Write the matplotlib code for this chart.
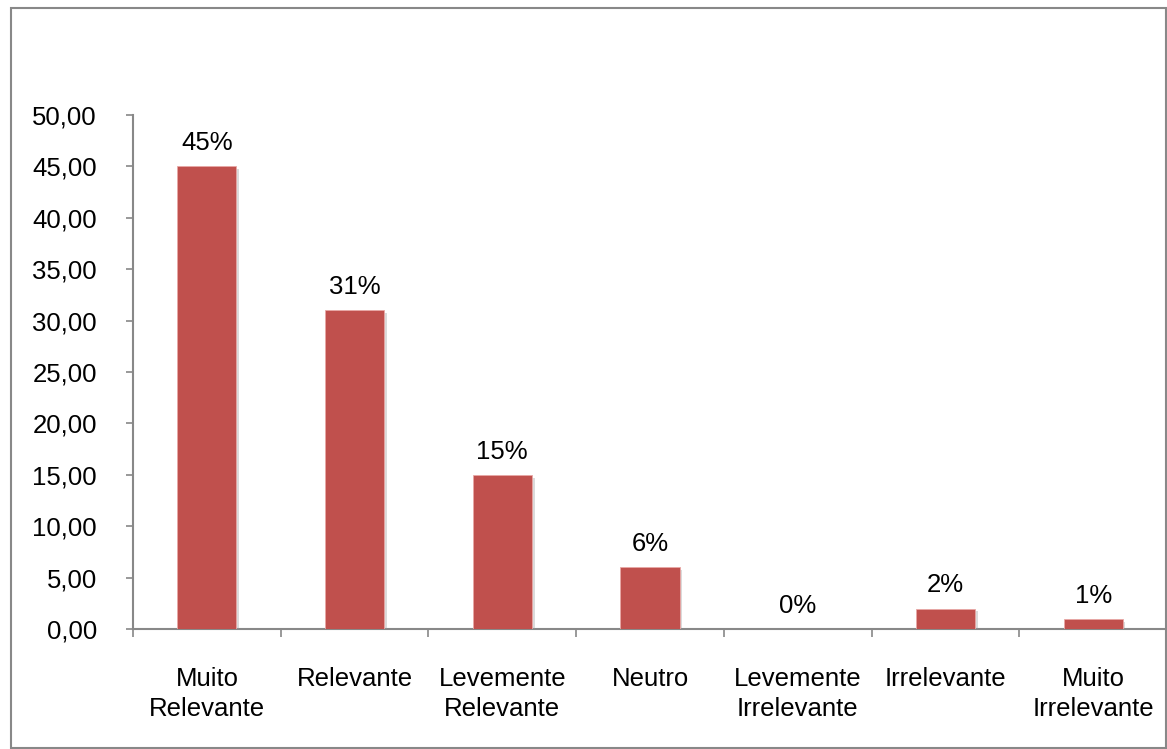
import matplotlib
matplotlib.use("Agg")
import matplotlib.pyplot as plt
import matplotlib.patheffects as pe
from matplotlib.patches import Rectangle
from matplotlib.ticker import FuncFormatter

categorias = ["Muito\nRelevante", "Relevante", "Levemente\nRelevante", "Neutro",
              "Levemente\nIrrelevante", "Irrelevante", "Muito\nIrrelevante"]
valores = [45, 31, 15, 6, 0, 2, 1]
yticks = [0, 5, 10, 15, 20, 25, 30, 35, 40, 45, 50]

plt.rcParams['font.family'] = ['Liberation Sans', 'DejaVu Sans']

fig = plt.figure(figsize=(11.67, 7.49), dpi=100)
ax = fig.add_axes([0.114, 0.160, 0.886, 0.6865])

# moldura externa
fig.patches.append(Rectangle((0.0094, 0.002), 0.99, 0.987, transform=fig.transFigure,
                             fill=False, edgecolor='#888888', linewidth=1.5))

x = list(range(len(valores)))
bars = ax.bar(x, valores, width=0.4, color='#C0504D', edgecolor='#E8A8A6', linewidth=0.6,
              zorder=3)
for b in bars:
    b.set_path_effects([pe.SimplePatchShadow(offset=(2, -2), shadow_rgbFace='#999999', alpha=0.35),
                        pe.Normal()])

for xi, v in zip(x, valores):
    ax.annotate(f"{v}%", (xi, v), xytext=(0, 8), textcoords='offset points',
                ha='center', va='bottom', fontsize=18.5)

ax.set_xlim(-0.5, len(valores) - 0.5)
ax.set_ylim(0, 50)
ax.set_yticks(yticks)
ax.yaxis.set_major_formatter(FuncFormatter(lambda v, p: f"{v:.2f}".replace('.', ',')))

ax.set_xticks([i - 0.5 for i in range(len(valores) + 1)])
ax.set_xticklabels([])
ax.set_xticks(x, minor=True)
ax.set_xticklabels(categorias, minor=True, linespacing=1.35)

for s in ['top', 'right']:
    ax.spines[s].set_visible(False)
for s in ['left', 'bottom']:
    ax.spines[s].set_color('#888888')
    ax.spines[s].set_linewidth(1.5)

ax.tick_params(axis='y', direction='out', length=5, width=1.2, color='#888888',
               labelsize=18.5, pad=21)
ax.tick_params(axis='x', which='major', direction='out', length=6, width=1.2, color='#888888')
ax.tick_params(axis='x', which='minor', length=0, labelsize=18.5, pad=27)

fig.savefig("out.png", dpi=100)
